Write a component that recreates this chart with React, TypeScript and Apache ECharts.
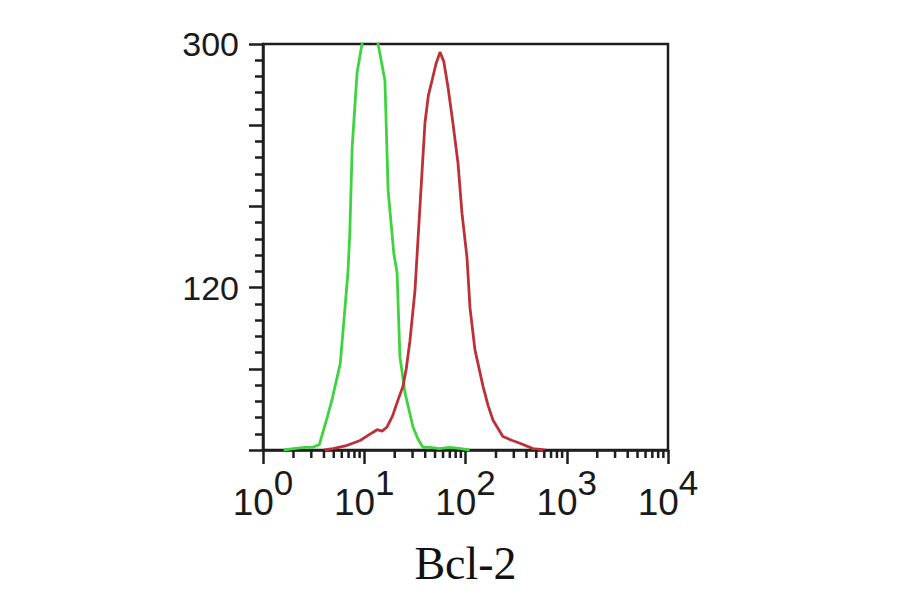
import React, { useEffect, useRef } from "react";
import * as echarts from "echarts";

const GREEN_X = [1.6, 2.0, 2.6, 3.1, 3.6, 4.3, 4.8, 5.8, 6.9, 7.2, 7.6, 8.5, 9.5, 11, 12.5, 13.7, 16.0, 17.2, 18.8, 19.6, 21.1, 22.5, 25.3, 30.3, 34, 38, 45, 55, 70, 90, 110];
const GREEN_Y = [0, 1, 2, 2, 4, 24, 37, 64, 131, 160, 224, 279, 300, 318, 316, 300, 273, 192, 160, 145, 131, 69, 42, 17, 8, 2, 2, 1, 2, 1, 0];

const RED_X = [4.0, 4.9, 6.5, 9.1, 11, 13.4, 15, 16.8, 19, 21.1, 24.1, 26, 28.3, 31.7, 35.5, 39.8, 43, 46.7, 51, 56, 61, 67.2, 75.3, 84.3, 92.3, 103.5, 110.8, 124, 149, 167, 187, 234, 290, 345, 464, 610];
const RED_Y = [0, 1, 3, 7, 11, 15, 14, 17, 25, 35, 47, 60, 81, 118, 180, 242, 262, 273, 285, 294, 287, 268, 241, 212, 175, 142, 105, 74, 47, 33, 22, 10, 7, 5, 1, 0];

const X_MINOR_TICKS = [2, 3, 4, 5, 6, 7, 8, 9, 20, 30, 40, 50, 60, 70, 80, 90, 200, 300, 400, 500, 600, 700, 800, 900, 2000, 3000, 4000, 5000, 6000, 7000, 8000, 9000];
const Y_LABELS = [120, 300];
const X_TITLE = "Bcl-2";

export default function App() {
  const ref = useRef<HTMLDivElement>(null);
  useEffect(() => {
    document.body.style.margin = "0";
    const chart = echarts.init(ref.current!, null, { renderer: "svg" });
    const axisColor = "#1e1e1e";
    chart.setOption({
      animation: false,
      backgroundColor: "#fff",
      grid: {
        left: 263,
        right: 232,
        top: 44,
        bottom: 144,
        show: true,
        borderColor: axisColor,
        borderWidth: 2.5,
        backgroundColor: "transparent",
      },
      xAxis: {
        type: "log",
        logBase: 10,
        min: 1,
        max: 10000,
        name: X_TITLE,
        nameLocation: "middle",
        nameGap: 113,
        nameTextStyle: {
          fontFamily: "Liberation Serif",
          fontSize: 46,
          color: "#111",
          verticalAlign: "middle",
        },
        axisLine: { show: true, lineStyle: { color: axisColor, width: 2.5 } },
        axisTick: { show: true, length: 14, lineStyle: { color: axisColor, width: 2.5 } },
        splitLine: { show: false },
        axisLabel: {
          margin: 15,
          formatter: (v: number) => `{b|10}{s|${Math.round(Math.log10(v))}}`,
          rich: {
            b: { fontFamily: "Liberation Sans", fontSize: 37, color: "#1a1a1a", padding: [12, 0, 0, 0] },
            s: {
              fontFamily: "Liberation Sans",
              fontSize: 35,
              color: "#1a1a1a",
              padding: [0, 0, 27, 0],
            },
          },
        },
      },
      yAxis: {
        type: "value",
        min: 0,
        max: 300,
        interval: 60,
        axisLine: { show: true, lineStyle: { color: axisColor, width: 2.5 } },
        axisTick: { show: true, length: 14, lineStyle: { color: axisColor, width: 2.5 } },
        minorTick: { show: true, splitNumber: 5, length: 8, lineStyle: { color: axisColor, width: 2.5 } },
        splitLine: { show: false },
        minorSplitLine: { show: false },
        axisLabel: {
          margin: 24,
          fontFamily: "Liberation Sans",
          fontSize: 34,
          color: "#1a1a1a",
          formatter: (v: number) => (Y_LABELS.includes(v) ? String(v) : ""),
        },
      },
      series: [
        {
          type: "line",
          name: "isotype",
          data: GREEN_X.map((x, i) => [x, GREEN_Y[i]]),
          showSymbol: false,
          symbol: "none",
          lineStyle: { color: "#3fd43f", width: 2.8 },
          clip: true,
          z: 3,
        },
        {
          type: "line",
          name: "Bcl-2",
          data: RED_X.map((x, i) => [x, RED_Y[i]]),
          showSymbol: false,
          symbol: "none",
          lineStyle: { color: "#bd3038", width: 2.8 },
          clip: true,
          z: 4,
        },
        {
          type: "custom",
          silent: true,
          clip: false,
          data: X_MINOR_TICKS.map((v) => [v, 0]),
          renderItem: (params: any, api: any) => {
            const p = api.coord([api.value(0), 0]);
            return {
              type: "line",
              shape: { x1: p[0], y1: p[1], x2: p[0], y2: p[1] + 8 },
              style: { stroke: axisColor, lineWidth: 2.5 },
            };
          },
          z: 5,
        },
      ],
    });
    return () => chart.dispose();
  }, []);
  return <div ref={ref} style={{ width: 900, height: 594 }} />;
}
